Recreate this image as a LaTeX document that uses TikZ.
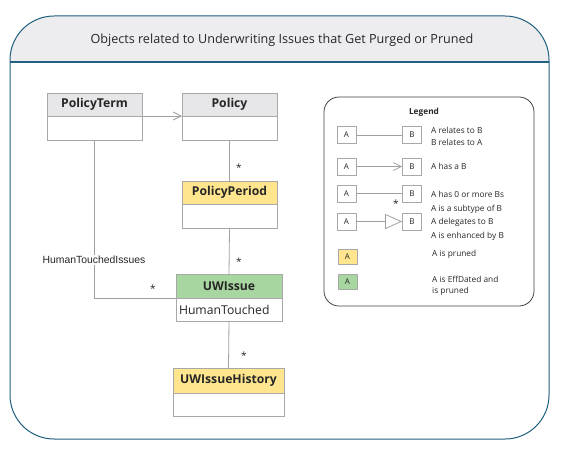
\documentclass[tikz,border=0pt]{standalone}
\usepackage{fontspec}
\setmainfont{Open Sans}
\newfontfamily\lsans{Liberation Sans}
\usetikzlibrary{arrows.meta}
\definecolor{frameC}{HTML}{1F5F7F}
\definecolor{titleF}{HTML}{EDEDF0}
\definecolor{hdrG}{HTML}{E7E7E9}
\definecolor{hdrY}{HTML}{FFE68E}
\definecolor{hdrGr}{HTML}{A8D6A0}
\definecolor{boxC}{HTML}{A8A8A8}
\definecolor{lineC}{HTML}{A0A0A0}
\definecolor{legC}{HTML}{404040}
\definecolor{txtC}{HTML}{262626}
\tikzset{
  part/.style={draw=boxC, line width=0.8pt, inner sep=0pt, outer sep=0pt, anchor=north west, text=txtC},
  hdrtext/.style={font=\fontsize{12.2}{13}\selectfont\bfseries},
  conn/.style={draw=lineC, line width=0.8pt},
  star/.style={font=\fontsize{10}{10}\selectfont, text=txtC, inner sep=0pt},
  lbox/.style={draw=boxC, line width=0.7pt, minimum width=19pt, minimum height=17pt, inner sep=0pt, font=\fontsize{8}{9}\selectfont, text=txtC},
  ltext/.style={anchor=west, inner sep=0pt, font=\fontsize{8.3}{9}\selectfont, text=txtC},
  barb/.style={-{Straight Barb[length=8pt,width=8pt,line width=0.8pt]}},
}
\begin{document}
\begin{tikzpicture}[x=1pt,y=-1pt]
\useasboundingbox (0,0) rectangle (567,452);
% frame
\begin{scope}
  \clip (0,0) rectangle (567,62);
  \fill[titleF, rounded corners=44pt] (10,16) rectangle (549,439);
\end{scope}
\draw[frameC, line width=1.2pt] (10,62) -- (549,62);
\draw[frameC, line width=1pt, rounded corners=44pt] (10,16) rectangle (549,439);
\node[text=txtC, font=\fontsize{12.6}{14}\selectfont] (title) at (282,40) {Objects related to Underwriting Issues that Get Purged or Pruned};

% classes
\node[part, fill=hdrG, minimum width=95pt, minimum height=23pt, hdrtext] (ptH) at (47,93) {PolicyTerm};
\node[part, minimum width=95pt, minimum height=24pt] (ptB) at (47,116) {};
\node[part, fill=hdrG, minimum width=95pt, minimum height=23pt, hdrtext] (polH) at (182,93) {Policy};
\node[part, minimum width=95pt, minimum height=24pt] (polB) at (182,116) {};
\node[part, fill=hdrY, minimum width=95pt, minimum height=23pt, hdrtext] (ppH) at (182,181) {PolicyPeriod};
\node[part, minimum width=95pt, minimum height=24pt] (ppB) at (182,204) {};
\node[part, fill=hdrGr, minimum width=106pt, minimum height=24pt, hdrtext] (uwH) at (176,274) {UWIssue};
\node[part, minimum width=106pt, minimum height=23pt, align=left, text width=100pt, font=\fontsize{12.2}{13}\selectfont] (uwB) at (176,298) {\hspace*{0pt}HumanTouched};
\node[part, fill=hdrY, minimum width=111pt, minimum height=25pt, hdrtext] (uhH) at (173,368) {UWIssueHistory};
\node[part, minimum width=111pt, minimum height=23pt] (uhB) at (173,393) {};

% connectors
\draw[conn, barb] (ptH.south east) -- (polH.south west);
\draw[conn] (polB.south) -- (ppH.north);
\node[star] (s1) at (239,168) {*};
\draw[conn] (ppB.south) -- (uwH.north);
\node[star] (s2) at (239,262) {*};
\draw[conn] (uwB.south) -- (uhH.north);
\node[star] (s3) at (244,356) {*};
\draw[conn] (ptB.south) |- (uwH.south west);
\node[star] (s4) at (153,289) {*};
\node[fill=white, inner sep=1pt, font=\lsans\fontsize{10.4}{11}\selectfont, text=txtC] (htl) at (94,260) {HumanTouchedIssues};

% legend
\draw[legC, line width=0.8pt, rounded corners=15pt] (324,97) rectangle (534,306);
\node[font=\fontsize{8.3}{9}\selectfont\bfseries, text=txtC] (legT) at (424,112) {Legend};
\node[lbox] (a1) at (346.5,135) {A};
\node[lbox] (b1) at (412,135) {B};
\draw[conn] (a1) -- (b1);
\node[ltext] (t1a) at (431,130) {A relates to B};
\node[ltext] (t1b) at (431,142) {B relates to A};
\node[lbox] (a2) at (346.5,166.5) {A};
\node[lbox] (b2) at (412,166.5) {B};
\draw[conn, barb] (a2) -- (b2);
\node[ltext] (t2) at (431,166) {A has a B};
\node[lbox] (a3) at (346.5,193.5) {A};
\node[lbox] (b3) at (412,193.5) {B};
\draw[conn] (a3) -- (b3);
\node[star] (s5) at (396,204) {*};
\node[ltext] (t3a) at (431,194) {A has 0 or more Bs};
\node[ltext] (t3b) at (431,209) {A is a subtype of B};
\node[lbox] (a4) at (346.5,221.5) {A};
\node[lbox] (b4) at (412,221.5) {B};
\draw[conn, -{Triangle[open, length=17pt, width=15pt, line width=0.8pt]}] (a4) -- (b4);
\node[ltext] (t4a) at (431,222) {A delegates to B};
\node[ltext] (t4b) at (431,236) {A is enhanced by B};
\node[lbox, fill=hdrY, minimum height=15pt] (a5) at (347.5,257) {A};
\node[ltext] (t5) at (432,254) {A is pruned};
\node[lbox, fill=hdrGr, minimum height=15pt] (a6) at (347.5,281.5) {A};
\node[ltext] (t6a) at (432,279) {A is EffDated and};
\node[ltext] (t6b) at (432,291) {is pruned};
\end{tikzpicture}
\end{document}
